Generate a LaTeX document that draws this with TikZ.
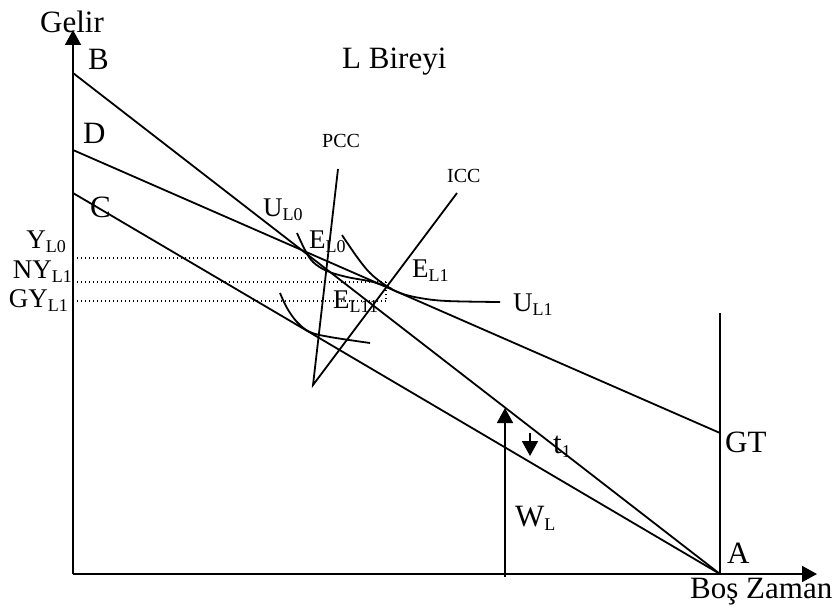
\documentclass[tikz,border=0pt]{standalone}
\usepackage{fontspec}
\setmainfont{Liberation Serif}
\usetikzlibrary{arrows.meta}
\newcommand\sbs[1]{\raisebox{-4pt}{\fontsize{18}{20}\selectfont #1}}
\begin{document}
\begin{tikzpicture}[x=1pt,y=-1pt,
  ln/.style={line width=1.8pt},
  dots/.style={line width=1.3pt, dash pattern=on 1.3pt off 2.7pt},
  lbl/.style={inner sep=0pt, font=\fontsize{31}{36}\selectfont, anchor=base west},
  mid/.style={inner sep=0pt, font=\fontsize{27}{32}\selectfont, anchor=base west},
  midr/.style={mid, anchor=base east},
  small/.style={inner sep=0pt, font=\fontsize{20}{24}\selectfont, anchor=base west},
  tip/.style={-{Triangle[length=15pt,width=16pt]}}
]
\useasboundingbox (0,0) rectangle (840,610);
% key points
\coordinate (O) at (73,574);
\coordinate (Ytip) at (73,30);
\coordinate (Xtip) at (817,574);
\coordinate (B) at (73,73);
\coordinate (D) at (73,150);
\coordinate (C) at (73,193);
\coordinate (A) at (720,574);
\coordinate (GT) at (720,433);
\coordinate (Vtop) at (720,313);
\coordinate (PCCtop) at (338,169);
\coordinate (PCCbot) at (313,385);
\coordinate (ICCtop) at (457,193);
\coordinate (WLbot) at (505,577);
\coordinate (WLtop) at (505,408);
\coordinate (tA) at (530,433);
\coordinate (tB) at (530,456);
% dotted guide points
\coordinate (y0s) at (77,258);
\coordinate (y0e) at (309,258);
\coordinate (ny1s) at (77,282);
\coordinate (ny1e) at (386,282);
\coordinate (gy1s) at (77,301);
\coordinate (gy1e) at (386,301);
% axes
\draw[ln,tip] (O) -- (Ytip);
\draw[ln,tip] (O) -- (Xtip);
% budget lines
\draw[ln] (B) -- (A);
\draw[ln] (D) -- (GT);
\draw[ln] (C) -- (A);
\draw[ln] (A) -- (Vtop);
% PCC / ICC
\draw[ln] (PCCtop) -- (PCCbot) -- (ICCtop);
% arrows
\draw[ln,tip] (WLbot) -- (WLtop);
\draw[ln,tip] (tA) -- (tB);
% dotted lines
\draw[dots] (y0s) -- (y0e);
\draw[dots] (ny1s) -- (ny1e);
\draw[dots] (gy1s) -- (gy1e);
\draw[dots] (ny1e) -- (gy1e);
% indifference curves
\draw[ln] plot[smooth,tension=0.6] coordinates {(297,233) (305,250) (313,262) (327,271) (347,277) (373,282) (392,289)};
\draw[ln] plot[smooth,tension=0.6] coordinates {(342,235) (357,257) (370,273) (385,285) (400,293) (420,298) (447,301) (500,302)};
\draw[ln] plot[smooth,tension=0.6] coordinates {(280,293) (287,308) (297,322) (310,332) (330,337) (370,343)};
% labels
\node[lbl] (gelir) at (40,33) {Gelir};
\node[lbl] (title) at (342,68) {L Bireyi};
\node[lbl] (lB) at (88,70) {B};
\node[lbl] (lD) at (83,143) {D};
\node[lbl] (lC) at (90,217) {C};
\node[small] (pcc) at (322,147) {PCC};
\node[small] (icc) at (447,182) {ICC};
\node[mid] (ul0) at (263,216) {U\sbs{L0}};
\node[mid] (el0) at (309,248) {E\sbs{L0}};
\node[mid] (el1) at (412,277) {E\sbs{L1}};
\node[mid] (el11) at (333,308) {E\sbs{L11}};
\node[mid] (ul1) at (513,311) {U\sbs{L1}};
\node[midr] (yl0) at (66,248) {Y\sbs{L0}};
\node[midr] (nyl1) at (72,278) {NY\sbs{L1}};
\node[midr] (gyl1) at (68,307) {GY\sbs{L1}};
\node[lbl] (t1) at (553,453) {t\sbs{1}};
\node[lbl] (wl) at (515,526) {W\sbs{L}};
\node[lbl] (lGT) at (725,452) {GT};
\node[lbl] (lA) at (727,563) {A};
\node[lbl] (bz) at (690,598) {Boş Zaman};
\end{tikzpicture}
\end{document}
